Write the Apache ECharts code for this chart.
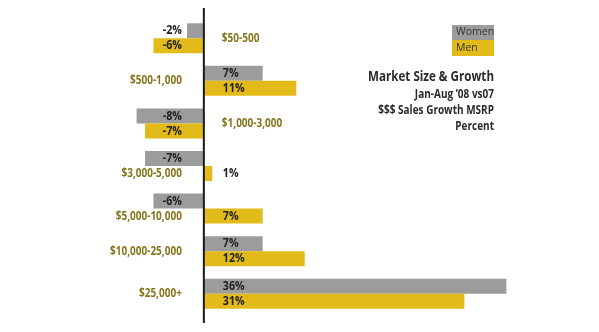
<!DOCTYPE html>
<html><head><meta charset="utf-8">
<script src="https://cdn.jsdelivr.net/npm/echarts@6/dist/echarts.min.js"></script>
<style>html,body{margin:0;padding:0;background:#fff}#c{width:599px;height:332px}</style>
</head><body><div id="c"></div>
<script>
const categories = ['$50-500','$500-1,000','$1,000-3,000','$3,000-5,000','$5,000-10,000','$10,000-25,000','$25,000+'];
const women = [-2, 7, -8, -7, -6, 7, 36];
const men = [-6, 11, -7, 1, 7, 12, 31];
const seriesNames = ['Women', 'Men'];
const titleLines = ['Market Size & Growth', "Jan-Aug \u201908 vs07", '$$$ Sales Growth MSRP', 'Percent'];

const GRAY = '#9c9c9c', GOLD = '#e2bb1b', OLIVE = '#85761c', DARK = '#222';
const FONT = '"Open Sans"';
const BW = 15;

const chart = echarts.init(document.getElementById('c'), null, {renderer: 'canvas'});

function narrowText(x, y, text, align, fill, font, sx) {
  return {
    type: 'text', x: x, y: y, scaleX: sx,
    style: {x: 0, y: 0, text: text, align: align, verticalAlign: 'middle', fill: fill, font: font}
  };
}

function renderLabels(params, api) {
  const i = api.value(1);
  const p = api.coord([0, i]);
  const w = women[i], m = men[i];
  const kids = [];
  const valText = (v, y) => narrowText(
    v >= 0 ? p[0] + 19 : p[0] - 22, y, v + '%',
    v >= 0 ? 'left' : 'right', DARK, 'bold 13px ' + FONT, 0.82);
  kids.push(valText(w, p[1] - BW / 2));
  kids.push(valText(m, p[1] + BW / 2));
  const bothNeg = w < 0 && m < 0;
  const mixed = w < 0 && m > 0;
  kids.push(narrowText(
    bothNeg ? p[0] + 18 : p[0] - 22,
    mixed ? p[1] + BW / 2 : p[1],
    categories[i], bothNeg ? 'left' : 'right', OLIVE, 'bold 12.5px ' + FONT, 0.8));
  return {type: 'group', children: kids};
}

chart.setOption({
  animation: false,
  textStyle: {fontFamily: 'Open Sans'},
  legend: {
    left: 447, top: 25, orient: 'vertical', itemGap: 0, padding: 0,
    itemWidth: 0, itemHeight: 0, icon: 'none',
    selectedMode: false,
    data: seriesNames,
    formatter: n => n === 'Women' ? '{w|' + n + '}' : '{m|' + n + '}',
    textStyle: {
      fontFamily: 'Open Sans',
      rich: {
        w: {backgroundColor: GRAY, width: 38, height: 15, padding: [0, 0, 0, 4], fontSize: 10.5, color: '#333', fontFamily: 'Open Sans'},
        m: {backgroundColor: GOLD, width: 38, height: 16, padding: [0, 0, 0, 4], fontSize: 10.5, color: '#333', fontFamily: 'Open Sans'}
      }
    }
  },
  grid: {left: 103, width: 437, top: 17, height: 298, containLabel: false},
  xAxis: {type: 'value', min: -12, max: 40, show: false},
  yAxis: {type: 'category', inverse: true, data: categories, show: false},
  series: [
    {name: seriesNames[0], type: 'bar', data: women, barWidth: BW, barGap: '0%', itemStyle: {color: GRAY}},
    {name: seriesNames[1], type: 'bar', data: men, barWidth: BW, barGap: '0%', itemStyle: {color: GOLD}},
    {type: 'custom', data: categories.map((c, i) => [0, i]), encode: {x: 0, y: 1}, renderItem: renderLabels, z: 5, silent: true}
  ]
});

const x0 = chart.convertToPixel({xAxisIndex: 0}, 0);
chart.setOption({
  graphic: [
    {type: 'line', shape: {x1: x0, y1: 8, x2: x0, y2: 323}, style: {stroke: '#1a1a1a', lineWidth: 2}, z: 10},
    narrowText(494, 77, titleLines[0], 'right', '#2a2a2a', 'bold 14.5px ' + FONT, 0.8),
    narrowText(494, 94, titleLines[1], 'right', '#2a2a2a', 'bold 12.5px ' + FONT, 0.8),
    narrowText(494, 110.5, titleLines[2], 'right', '#2a2a2a', 'bold 12.5px ' + FONT, 0.8),
    narrowText(494, 126.5, titleLines[3], 'right', '#2a2a2a', 'bold 12.5px ' + FONT, 0.8)
  ]
});
</script>
</body></html>
